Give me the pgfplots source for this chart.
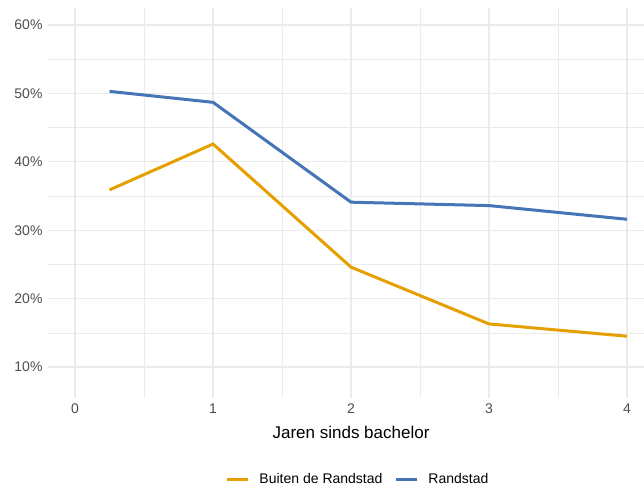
\documentclass[border=0pt]{standalone}
\usepackage{pgfplots}
\pgfplotsset{compat=1.18}
\usepackage{fontspec}
\setmainfont{Liberation Sans}
\definecolor{cOr}{HTML}{E69F00}
\definecolor{cBl}{HTML}{4575B4}
\definecolor{gridc}{HTML}{EBEBEB}
\definecolor{tickc}{HTML}{4D4D4D}
\begin{document}
\begin{tikzpicture}
\useasboundingbox (0,-492bp) rectangle (644bp,0);
\begin{axis}[
  at={(48bp,-398bp)}, anchor=south west,
  scale only axis, width=596bp, height=390bp,
  xmin=-0.196, xmax=4.123, ymin=5.47, ymax=62.49,
  axis line style={draw=none}, tick style={draw=none},
  xtick={0,1,2,3,4}, minor xtick={0.5,1.5,2.5,3.5},
  ytick={10,20,30,40,50,60}, minor ytick={15,25,35,45,55},
  grid=both,
  major grid style={draw=gridc, line width=1.1bp},
  minor grid style={draw=gridc, line width=0.6bp},
  /pgf/number format/assume math mode=true,
  yticklabel={\pgfmathprintnumber{\tick}\%},
  ticklabel style={font=\fontsize{14bp}{16bp}\selectfont, text=tickc},
  xticklabel style={anchor=north, yshift=-2bp},
  yticklabel style={anchor=east, xshift=-2bp},
  xlabel={Jaren sinds bachelor},
  xlabel style={font=\fontsize{17bp}{20bp}\selectfont, at={(axis cs:2.0,5.47)}, anchor=center, yshift=-34bp},
  legend style={draw=none, fill=none, font=\fontsize{14bp}{16bp}\selectfont,
    at={(rel axis cs:0.520,-0.2077)}, anchor=center, legend columns=2,
    /tikz/every odd column/.append style={column sep=8bp},
    /tikz/every even column/.append style={column sep=10bp}},
  legend image code/.code={\draw[#1, line width=3bp] (0bp,0bp) -- (21bp,0bp);},
]
\addplot[cOr, line width=3bp] coordinates {(0.25,35.9) (1,42.6) (2,24.6) (3,16.3) (4,14.5)};
\addlegendentry{Buiten de Randstad}
\addplot[cBl, line width=3bp] coordinates {(0.25,50.3) (1,48.7) (2,34.1) (3,33.6) (4,31.6)};
\addlegendentry{Randstad}
\end{axis}
\end{tikzpicture}
\end{document}
